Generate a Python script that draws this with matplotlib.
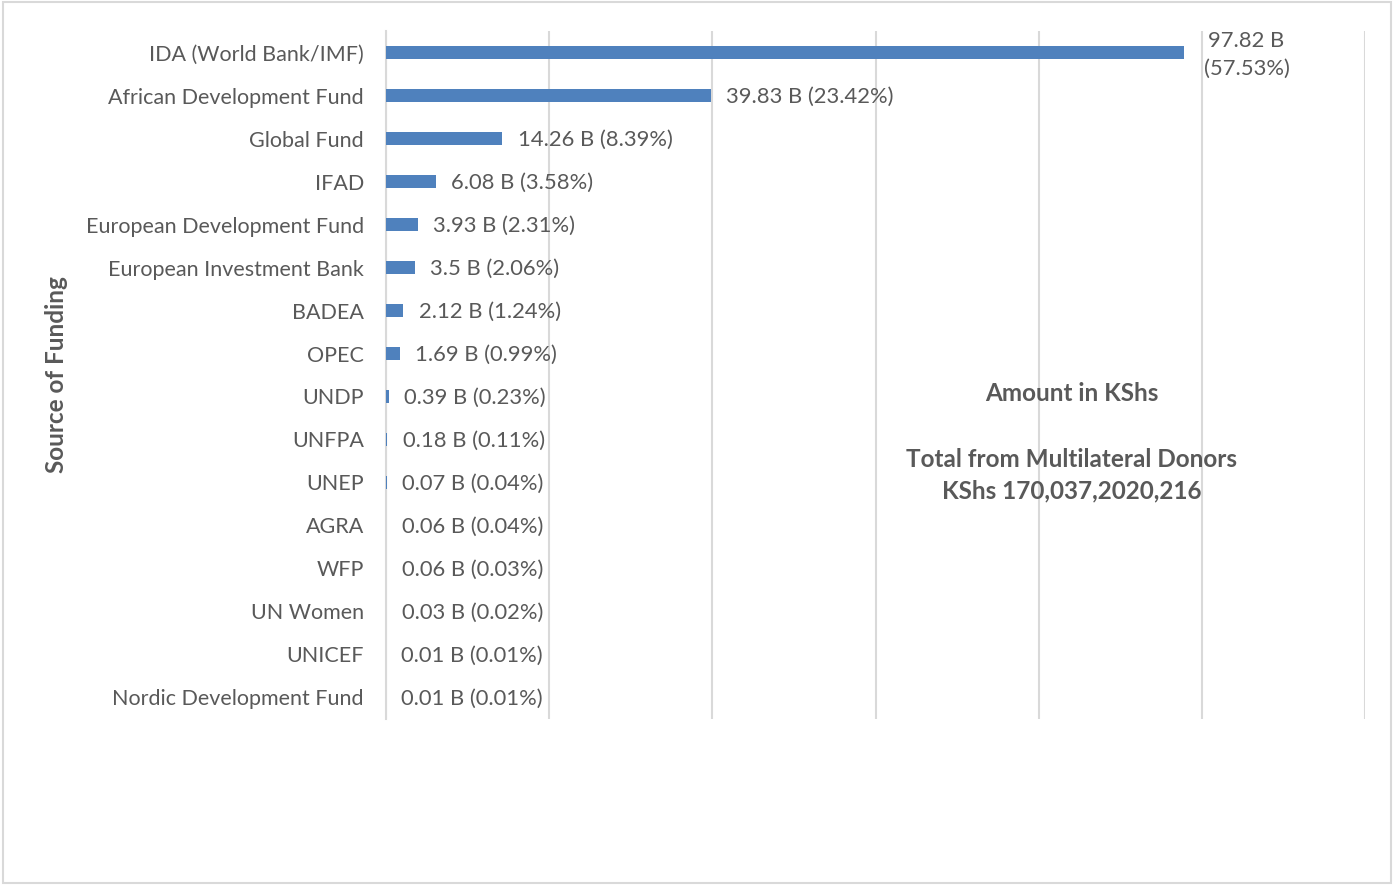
import matplotlib.pyplot as plt
from matplotlib.patches import Rectangle

plt.rcParams['font.family'] = ['Lato', 'DejaVu Sans']

# Datos del gráfico (de arriba a abajo)
fuentes = ['IDA (World Bank/IMF)', 'African Development Fund', 'Global Fund', 'IFAD',
           'European Development Fund', 'European Investment Bank', 'BADEA', 'OPEC',
           'UNDP', 'UNFPA', 'UNEP', 'AGRA', 'WFP', 'UN Women', 'UNICEF',
           'Nordic Development Fund']
montos = [97.82, 39.83, 14.26, 6.08, 3.93, 3.5, 2.12, 1.69,
          0.39, 0.18, 0.07, 0.06, 0.06, 0.03, 0.01, 0.01]
porcentajes = ['57.53%', '23.42%', '8.39%', '3.58%', '2.31%', '2.06%', '1.24%', '0.99%',
               '0.23%', '0.11%', '0.04%', '0.04%', '0.03%', '0.02%', '0.01%', '0.01%']
etiquetas_x = [0, 20, 40, 60, 80, 100, 120]

GRIS = '#595959'
AZUL = '#4F81BD'

fig = plt.figure(figsize=(13.94, 8.86), dpi=100)
ax = fig.add_axes([0.2769, 0.1885, 0.7023, 0.7765])

posiciones = list(range(len(fuentes)))
ax.barh(posiciones, montos, height=0.3, color=AZUL, zorder=3)

ax.set_ylim(len(fuentes) - 0.5, -0.5)
ax.set_xlim(0, 120)
ax.set_xticks(etiquetas_x)
ax.set_xticklabels([])
ax.tick_params(axis='x', length=0)
ax.tick_params(axis='y', length=0, pad=16, labelsize=15.5, labelcolor=GRIS)
ax.set_yticks(posiciones)
ax.set_yticklabels(fuentes)
ax.grid(axis='x', color='#d9d9d9', linewidth=1.5, zorder=0)
for lado in ['top', 'right', 'bottom']:
    ax.spines[lado].set_visible(False)
ax.spines['left'].set_color('#d9d9d9')
ax.spines['left'].set_linewidth(1.5)

# Etiquetas de valores
for i, (m, p) in enumerate(zip(montos, porcentajes)):
    if i == 0:
        ax.annotate(f'{m} B\n({p})', xy=(m, i), xytext=(45, -2), textcoords='offset points',
                    ha='center', va='center', fontsize=15.8, color=GRIS, linespacing=1.5)
    else:
        ax.annotate(f'{m} B ({p})', xy=(m, i), xytext=(11, -1), textcoords='offset points',
                    ha='left', va='center', fontsize=15.8, color=GRIS)

ax.set_ylabel('Source of Funding', fontsize=17.5, fontweight='bold', color=GRIS)
ax.yaxis.set_label_coords(-0.325, 0.5)

fig.text(0.769, 0.556, 'Amount in KShs', ha='center', va='center',
         fontsize=17.5, fontweight='bold', color=GRIS)
fig.text(0.769, 0.481, 'Total from Multilateral Donors', ha='center', va='center',
         fontsize=17.5, fontweight='bold', color=GRIS)
fig.text(0.769, 0.446, 'KShs 170,037,2020,216', ha='center', va='center',
         fontsize=17.5, fontweight='bold', color=GRIS)

# Borde del gráfico
fig.patches.append(Rectangle((0.002, 0.003), 0.996, 0.995, transform=fig.transFigure,
                             fill=False, edgecolor='#d9d9d9', linewidth=1.5))

fig.savefig('out.png', dpi=100)
